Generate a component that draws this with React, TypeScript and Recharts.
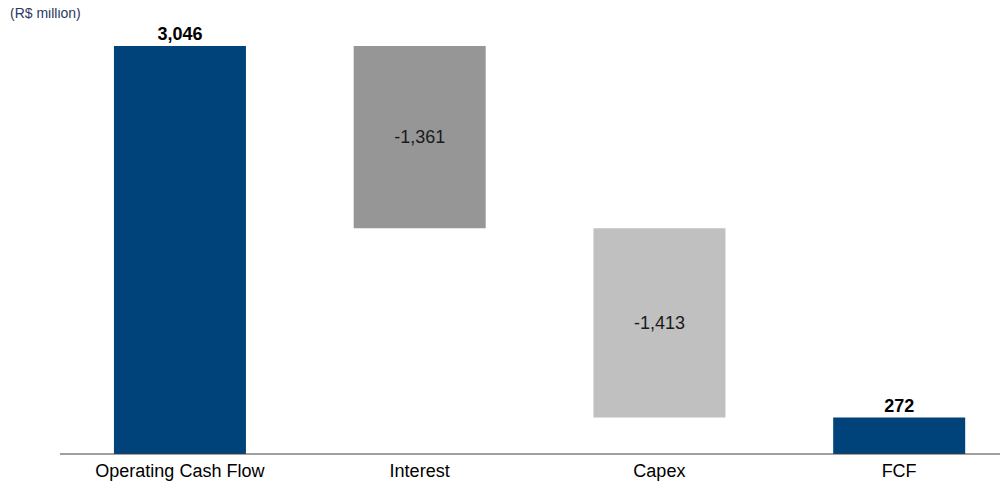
import React from "react";
import { BarChart, Bar, XAxis, YAxis, Cell, LabelList } from "recharts";

const categories = ["Operating Cash Flow", "Interest", "Capex", "FCF"];
const values = [3046, -1361, -1413, 272];
const labels = ["3,046", "-1,361", "-1,413", "272"];
const totals = [true, false, false, true];
const colors = ["#00437A", "#969696", "#C0C0C0", "#00437A"];

const data = (() => {
  let running = 0;
  return categories.map((name, i) => {
    const v = values[i];
    let base = 0;
    let size = 0;
    if (totals[i]) {
      base = 0;
      size = v;
      running = v;
    } else {
      const next = running + v;
      base = Math.min(running, next);
      size = Math.abs(v);
      running = next;
    }
    return { name, base, size, label: labels[i], total: totals[i] };
  });
})();

const FONT = "Liberation Sans, Arial, sans-serif";

const renderLabel = (props: any) => {
  const { x, y, width, height, index } = props;
  const d = data[index];
  const cx = x + width / 2;
  if (d.total) {
    return (
      <text x={cx} y={y - 6} textAnchor="middle" fontSize={18} fontWeight="bold" fill="#000" fontFamily={FONT}>
        {d.label}
      </text>
    );
  }
  return (
    <text x={cx} y={y + height / 2} dy="0.35em" textAnchor="middle" fontSize={18} fill="#1a1a1a" fontFamily={FONT}>
      {d.label}
    </text>
  );
};

export default function App() {
  return (
    <div style={{ position: "relative", width: 1000, height: 476, fontFamily: FONT }}>
      <div style={{ position: "absolute", left: 0, top: 0, width: 1000, height: 476, overflow: "hidden" }}>
        <BarChart
          width={1011}
          height={476}
          data={data}
          margin={{ top: 38, right: 0, bottom: 0, left: 52 }}
          barCategoryGap="22.5%"
        >
          <YAxis hide domain={[0, 3046]} />
          <XAxis
            dataKey="name"
            height={30}
            tickLine={false}
            tickSize={0}
            tickMargin={10}
            axisLine={{ stroke: "#404040", strokeWidth: 1 }}
            tick={{ fill: "#000", fontSize: 18, fontFamily: FONT }}
            interval={0}
          />
          <Bar dataKey="base" stackId="w" fill="transparent" isAnimationActive={false} />
          <Bar dataKey="size" stackId="w" isAnimationActive={false}>
            {data.map((d, i) => (
              <Cell key={d.name} fill={colors[i]} />
            ))}
            <LabelList dataKey="size" content={renderLabel} />
          </Bar>
        </BarChart>
      </div>
      <div style={{ position: "absolute", left: 2, top: -3, fontSize: 14, lineHeight: "16px", color: "#2B3A64", whiteSpace: "nowrap" }}>(R$ million)</div>
    </div>
  );
}
